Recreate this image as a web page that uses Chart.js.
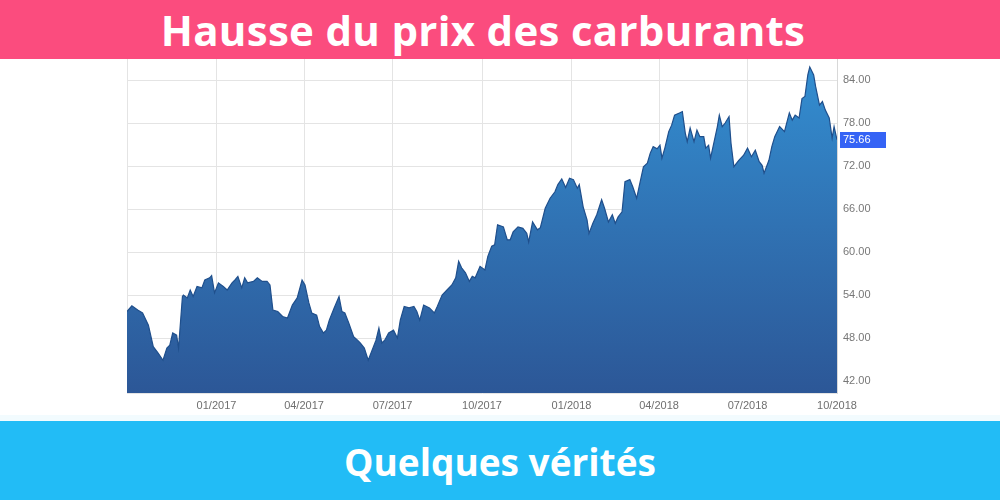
<!DOCTYPE html>
<html lang="fr">
<head>
<meta charset="utf-8">
<script src="https://cdn.jsdelivr.net/npm/chart.js@4.4.1/dist/chart.umd.min.js"></script>
<style>
  html, body { margin: 0; padding: 0; width: 1000px; height: 500px; overflow: hidden; background: #ffffff; }
  #wrap { position: relative; width: 1000px; height: 500px; }
  #c { position: absolute; left: 0; top: 0; }
  .banner { position: absolute; left: 0; width: 1000px; color: #ffffff; font-family: "Open Sans", "DejaVu Sans", sans-serif; font-weight: 700; text-align: center; white-space: nowrap; }
  #top { top: 0; height: 59px; background: #fb4c7e; font-size: 42px; line-height: 60px; padding-right: 34px; box-sizing: border-box; letter-spacing: 0.3px; }
  #strip { position: absolute; left: 0; top: 415px; width: 1000px; height: 6px; background: #f2fbfe; }
  #bottom { top: 421px; height: 79px; background: #22bcf6; font-size: 37px; line-height: 82px; }
</style>
</head>
<body>
<div id="wrap">
  <canvas id="c" width="1000" height="500"></canvas>
  <div class="banner" id="top">Hausse du prix des carburants</div>
  <div id="strip"></div>
  <div class="banner" id="bottom">Quelques vérités</div>
</div>
<script>
// Days since 01/10/2016
const dayOffsets = [0,5,11,16,22,27,32,37,41,44,47,51,53,57,58,62,65,68,72,77,80,85,87,90,94,99,103,108,111,114,118,121,124,130,134,139,144,147,150,155,160,165,170,175,180,
183,187,190,195,198,202,205,208,213,218,221,224,228,233,237,240,244,248,252,256,259,262,265,269,274,278,281,285,290,295,298,301,305,311,316,319,324,329,334,338,341,344,348,352,355,358,363,
368,371,375,378,381,387,391,394,397,402,407,411,413,417,422,425,430,435,440,443,447,451,455,459,463,465,469,473,475,479,483,488,491,495,499,502,505,509,512,517,520,524,527,531,535,538,541,545,
548,550,553,557,560,563,568,571,574,576,579,583,586,589,593,595,598,600,604,607,609,612,615,619,621,624,629,634,638,642,646,650,653,655,660,663,666,671,676,681,684,687,691,694,697,700,702,706,708,712,715,718,722,725,727,730];
const prices = [51.7,52.5,51.9,51.5,49.8,46.8,45.9,44.9,46.6,47.0,48.7,48.4,46.6,53.8,54.0,53.6,54.7,53.8,55.2,55.0,56.1,56.4,56.7,54.3,55.7,55.2,54.7,55.7,56.1,56.6,55.0,56.4,55.7,55.9,56.4,55.9,55.9,55.4,51.9,51.7,51.0,50.8,52.6,53.6,56.1,
55.4,52.9,51.5,51.2,49.6,48.7,49.1,50.5,52.2,53.8,51.7,51.5,50.1,48.2,47.7,47.3,46.6,44.9,46.3,47.7,49.4,47.3,47.7,48.7,49.1,48.0,50.5,52.4,52.2,52.4,51.7,50.5,52.6,52.2,51.5,52.4,54.0,54.7,55.4,56.4,58.7,57.8,57.1,55.9,56.6,56.4,58.0,
57.5,59.4,60.8,61.0,63.8,63.5,61.7,61.7,62.8,63.5,63.3,62.6,61.4,64.2,63.1,63.4,66.1,67.5,68.4,69.4,70.2,69.0,70.3,70.1,68.9,69.4,66.3,64.5,62.6,64.0,65.2,67.3,66.1,64.2,65.2,64.0,64.9,65.6,69.8,70.1,69.1,67.5,69.4,71.9,72.4,73.8,74.7,74.4,
74.9,73.1,74.5,76.8,77.7,79.1,79.4,79.6,76.6,75.4,77.3,75.4,77.0,76.1,76.1,74.5,74.9,73.1,75.6,77.5,79.1,77.5,78.0,78.9,75.2,71.9,72.8,73.5,74.5,73.3,74.2,72.6,72.1,71.0,72.8,74.7,76.1,77.5,76.8,79.4,78.4,79.1,78.7,81.4,81.7,84.7,85.8,84.7,83.1,80.5,81.0,79.8,78.7,75.9,77.5,75.66];
const xTickDays = [0,92,182,273,365,457,547,638,730];
const xTickLabels = ["","01/2017","04/2017","07/2017","10/2017","01/2018","04/2018","07/2018","10/2018"];
const yTicks = [42,48,54,60,66,72,78,84];
const lastPrice = prices[prices.length - 1];

const points = dayOffsets.map((d, i) => ({ x: d, y: prices[i] }));

const priceTag = {
  id: 'priceTag',
  afterDraw(chart) {
    const ctx = chart.ctx;
    const ys = chart.scales.y;
    const y = ys.getPixelForValue(lastPrice);
    const x = chart.chartArea.right + 3;
    ctx.save();
    ctx.fillStyle = '#3563f5';
    ctx.fillRect(x, Math.round(y) - 8, 46, 16);
    ctx.fillStyle = '#ffffff';
    ctx.font = '11px "Liberation Sans", Arial, sans-serif';
    ctx.textBaseline = 'middle';
    ctx.textAlign = 'left';
    ctx.fillText(lastPrice.toFixed(2), x + 3, Math.round(y));
    ctx.restore();
  }
};

new Chart(document.getElementById('c'), {
  type: 'line',
  data: {
    datasets: [{
      data: points,
      borderColor: '#1f4f8c',
      borderWidth: 1.2,
      pointRadius: 0,
      tension: 0,
      fill: 'start',
      backgroundColor: (context) => {
        const chart = context.chart;
        const area = chart.chartArea;
        if (!area) return '#2f6fb0';
        const g = chart.ctx.createLinearGradient(0, area.top, 0, area.bottom);
        g.addColorStop(0, '#338fd2');
        g.addColorStop(0.5, '#3072b3');
        g.addColorStop(1, '#2c5797');
        return g;
      }
    }]
  },
  options: {
    responsive: false,
    devicePixelRatio: 1,
    animation: false,
    events: [],
    layout: { padding: { left: 127, top: 59, right: 0, bottom: 0 } },
    plugins: { legend: { display: false }, tooltip: { enabled: false } },
    scales: {
      x: {
        type: 'linear',
        min: 0,
        max: 730,
        position: 'bottom',
        afterBuildTicks: (axis) => { axis.ticks = xTickDays.map(v => ({ value: v })); },
        afterFit: (axis) => { axis.height = 107; },
        grid: { color: '#e4e4e4', lineWidth: 1, drawTicks: false },
        border: { display: true, color: '#e4e4e4' },
        ticks: {
          padding: 6,
          color: '#6f6f6f',
          font: { family: '"Liberation Sans", Arial, sans-serif', size: 11 },
          maxRotation: 0,
          autoSkip: false,
          callback: (v) => { const i = xTickDays.indexOf(v); return i >= 0 ? xTickLabels[i] : ''; }
        }
      },
      y: {
        position: 'right',
        min: 40.33,
        max: 86.93,
        afterBuildTicks: (axis) => { axis.ticks = yTicks.map(v => ({ value: v })); },
        afterFit: (axis) => { axis.width = 163; },
        grid: { color: '#e4e4e4', lineWidth: 1, drawTicks: false },
        border: { display: true, color: '#d8d8d8' },
        ticks: {
          padding: 6,
          color: '#777777',
          font: { family: '"Liberation Sans", Arial, sans-serif', size: 11 },
          callback: (v) => Number(v).toFixed(2)
        }
      }
    }
  },
  plugins: [priceTag]
});
</script>
</body>
</html>
